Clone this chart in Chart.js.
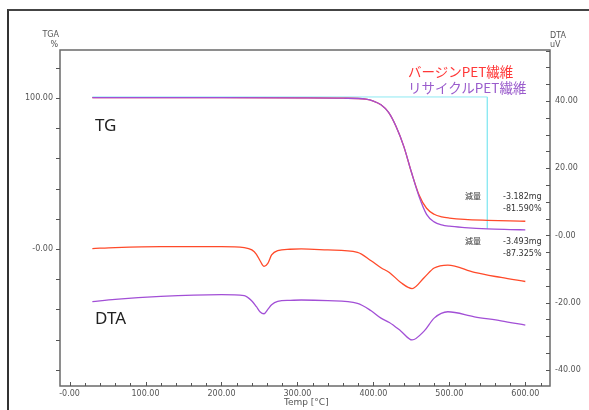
<!DOCTYPE html>
<html>
<head>
<meta charset="utf-8">
<script src="https://cdn.jsdelivr.net/npm/chart.js@4.4.1/dist/chart.umd.min.js"></script>
<style>
    html, body { margin: 0; padding: 0; background: #fff; }
    #wrap { position: relative; width: 589px; height: 410px; overflow: hidden; }
    #chart { position: absolute; left: 0; top: 0; }
    .frame { position: absolute; left: 7px; top: 9px; width: 600px; height: 420px;
             border-left: 2px solid #333; border-top: 2px solid #444; }
    .t { position: absolute; white-space: nowrap; }
    .axis { font-family: "DejaVu Sans", sans-serif; font-size: 8px; line-height: 8px; color: #555; }
    .note { font-family: "DejaVu Sans", "Noto Sans CJK JP", sans-serif; font-size: 8px; line-height: 8px; color: #333; }
    .big { font-family: "Noto Sans", sans-serif; font-size: 17px; line-height: 17px; color: #222; }
    .legend { font-family: "Noto Sans CJK JP", sans-serif; font-size: 13.5px; line-height: 14px; }
</style>
</head>
<body>
<div id="wrap">
    <canvas id="chart" width="589" height="410"></canvas>
    <div class="frame"></div>
    <div class="t axis" style="right:530px; top:31px;">TGA</div>
    <div class="t axis" style="right:531px; top:41px;">%</div>
    <div class="t axis" style="left:550px; top:32px;">DTA</div>
    <div class="t axis" style="left:550px; top:41px;">uV</div>
    <div class="t axis" style="left:284px; top:398px; font-size:9px;">Temp [°C]</div>
    <div class="t big" style="left:95px; top:116px;">TG</div>
    <div class="t big" style="left:95px; top:309px;">DTA</div>
    <div class="t legend" style="left:408px; top:64px; color:#ff3838;">バージンPET繊維</div>
    <div class="t legend" style="left:408px; top:80px; color:#9a5ccc;">リサイクルPET繊維</div>
    <div class="t note" style="left:465px; top:193px;">減量</div>
    <div class="t note" style="left:503px; top:193px;">-3.182mg</div>
    <div class="t note" style="left:503px; top:205px;">-81.590%</div>
    <div class="t note" style="left:465px; top:238px;">減量</div>
    <div class="t note" style="left:503px; top:238px;">-3.493mg</div>
    <div class="t note" style="left:503px; top:250px;">-87.325%</div>
</div>
<script>
// TG curves (weight %, left axis)
const tgTemp     = [30, 200, 300, 360, 390, 400, 410, 420, 430, 440, 450, 460, 470, 480, 490, 500, 520, 550, 580, 600];
const tgVirgin   = [100.3, 100.2, 100.1, 99.9, 99.2, 98, 95.5, 90.5, 81, 68, 51, 36, 27, 23, 21.3, 20.5, 19.6, 19, 18.6, 18.4];
const tgRecycled = [100.3, 100.2, 100.1, 99.9, 99.2, 98, 95.5, 90.5, 81, 68, 51, 35, 23, 18, 16, 15.1, 14.2, 13.3, 12.9, 12.7];

// DTA curves (uV, right axis)
const dtaTemp     = [30, 60, 120, 200, 230, 240, 246, 251, 256, 261, 266, 274, 290, 305, 340, 379, 397, 410, 421, 436, 451, 467, 480, 498, 533, 568, 600];
const dtaVirgin   = [-3.9, -3.6, -3.3, -3.3, -3.6, -4.3, -5.6, -7.6, -9.2, -8.3, -5.8, -4.5, -4.1, -4.0, -4.3, -5.0, -7.5, -9.6, -11, -14, -15.8, -12.5, -9.7, -8.8, -11, -12.5, -13.7];
const dtaRecycled = [-19.7, -19.0, -18.1, -17.6, -17.9, -19.5, -21.2, -22.8, -23.3, -22.0, -20.6, -19.6, -19.3, -19.2, -19.4, -20.2, -22.4, -24.6, -25.9, -28.4, -31.1, -28.4, -24.6, -22.7, -24.2, -25.4, -26.7];

// weight loss marker (cyan)
const markerTemp = [30, 550, 550];
const markerTga  = [100.7, 100.7, 13.3];

// tick labels
const xLabels   = [0, 100, 200, 300, 400, 500, 600];
const tgaLabels = [100, 0];
const dtaLabels = [40, 20, 0, -20, -40];

function pts(xs, ys) {
    return xs.map((x, i) => ({ x: x, y: ys[i] }));
}

function fmt(v) {
    return v === 0 ? (this === 'dta' ? '0.00' : '-0.00') : v.toFixed(2);
}

function range(from, to, step) {
    const out = [];
    for (let v = from; v <= to + 1e-9; v += step) out.push(Math.round(v * 100) / 100);
    return out;
}

const tickFont = { family: "DejaVu Sans", size: 8 };

// draws the plot box and the small tick marks
const boxPlugin = {
    id: 'box',
    afterDraw(chart) {
        const { ctx, chartArea: a, scales } = chart;
        ctx.save();
        ctx.strokeStyle = '#6a6a6a';
        ctx.lineWidth = 1.5;
        ctx.strokeRect(a.left, a.top, a.right - a.left, a.bottom - a.top);
        ctx.lineWidth = 1;
        ctx.strokeStyle = '#555';
        ctx.beginPath();
        scales.x.ticks.forEach(t => {
            const px = Math.round(scales.x.getPixelForValue(t.value)) + 0.5;
            const len = xLabels.includes(t.value) ? 4 : 3;
            ctx.moveTo(px, a.bottom);
            ctx.lineTo(px, a.bottom - len);
        });
        scales.tga.ticks.forEach(t => {
            const py = Math.round(scales.tga.getPixelForValue(t.value)) + 0.5;
            ctx.moveTo(a.left, py);
            ctx.lineTo(a.left - 4, py);
        });
        scales.dta.ticks.forEach(t => {
            const py = Math.round(scales.dta.getPixelForValue(t.value)) + 0.5;
            ctx.moveTo(a.right, py);
            ctx.lineTo(a.right - 4, py);
        });
        ctx.stroke();
        ctx.restore();
    }
};

const lineStyle = { fill: false, pointRadius: 0, borderWidth: 1.3, cubicInterpolationMode: 'monotone' };

// Chart.js paints dataset 0 last (on top), so purple comes before red and the marker last
new Chart(document.getElementById('chart').getContext('2d'), {
    type: 'line',
    data: {
        datasets: [
            Object.assign({ label: 'TG recycled', data: pts(tgTemp, tgRecycled), yAxisID: 'tga', borderColor: '#a24fd6' }, lineStyle),
            Object.assign({ label: 'TG virgin', data: pts(tgTemp, tgVirgin), yAxisID: 'tga', borderColor: '#ff4a2a' }, lineStyle),
            Object.assign({ label: 'DTA recycled', data: pts(dtaTemp, dtaRecycled), yAxisID: 'dta', borderColor: '#a24fd6' }, lineStyle),
            Object.assign({ label: 'DTA virgin', data: pts(dtaTemp, dtaVirgin), yAxisID: 'dta', borderColor: '#ff4a2a' }, lineStyle),
            Object.assign({ label: 'marker', data: pts(markerTemp, markerTga), yAxisID: 'tga', borderColor: '#8ee9f2', tension: 0 }, lineStyle, { cubicInterpolationMode: 'default', borderWidth: 1 })
        ]
    },
    options: {
        responsive: false,
        animation: false,
        devicePixelRatio: 1,
        layout: { padding: { top: 50, left: 0, right: 0, bottom: 0 } },
        plugins: { legend: { display: false }, tooltip: { enabled: false } },
        scales: {
            x: {
                type: 'linear',
                min: -12.6,
                max: 632.5,
                grid: { display: false, drawTicks: false },
                border: { display: false },
                afterFit: s => { s.height = 24; },
                afterBuildTicks: s => { s.ticks = range(0, 620, 20).map(v => ({ value: v })); },
                ticks: {
                    autoSkip: false, maxRotation: 0, padding: 3, color: '#555', font: tickFont,
                    callback: v => xLabels.includes(v) ? fmt.call('x', v) : ''
                }
            },
            tga: {
                position: 'left',
                min: -90.7,
                max: 131.8,
                grid: { display: false, drawTicks: false },
                border: { display: false },
                afterFit: s => { s.width = 60; },
                afterBuildTicks: s => { s.ticks = range(-80, 120, 20).map(v => ({ value: v })); },
                ticks: {
                    autoSkip: false, padding: 7, color: '#555', font: tickFont,
                    callback: v => tgaLabels.includes(v) ? fmt.call('tga', v) : ''
                }
            },
            dta: {
                position: 'right',
                min: -44.8,
                max: 55.2,
                grid: { display: false, drawTicks: false },
                border: { display: false },
                afterFit: s => { s.width = 39; },
                afterBuildTicks: s => { s.ticks = range(-40, 55, 5).map(v => ({ value: v })); },
                ticks: {
                    autoSkip: false, padding: 5, color: '#555', font: tickFont,
                    callback: v => dtaLabels.includes(v) ? fmt.call('dta', v) : ''
                }
            }
        }
    },
    plugins: [boxPlugin]
});
</script>
</body>
</html>
